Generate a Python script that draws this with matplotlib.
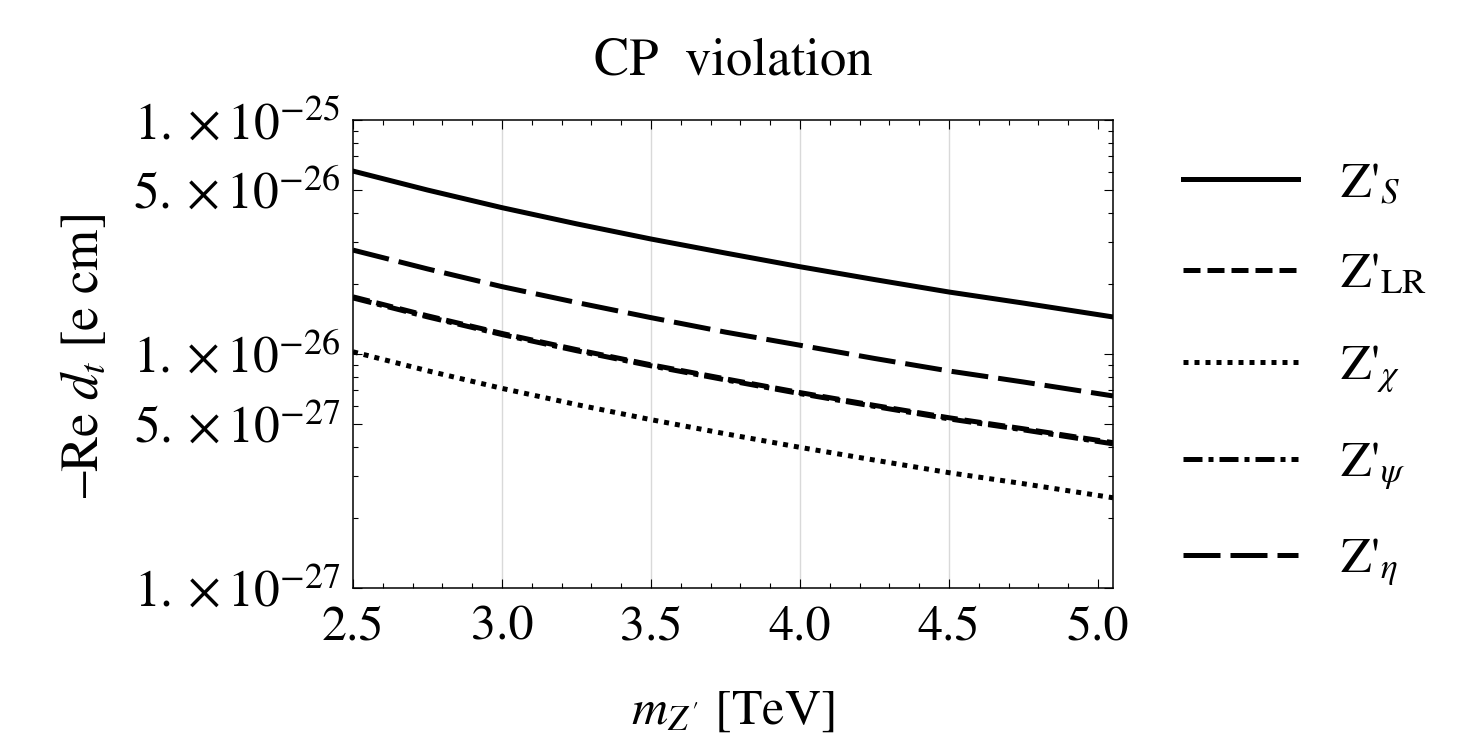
import matplotlib
matplotlib.use("Agg")
import matplotlib.pyplot as plt
from matplotlib.ticker import FixedLocator, NullFormatter

plt.rcParams['font.family'] = ['STIXGeneral', 'DejaVu Serif']
plt.rcParams['mathtext.fontset'] = 'stix'

# Z' mass [TeV]
m_zp = [2.5, 2.75, 3.0, 3.25, 3.5, 3.75, 4.0, 4.25, 4.5, 4.75, 5.05]

# -Re d_t in units of 1e-26 e cm
d_S = [6.05, 5.02, 4.22, 3.60, 3.10, 2.70, 2.36, 2.08, 1.84, 1.65, 1.44]
d_LR = [1.755, 1.456, 1.224, 1.044, 0.899, 0.783, 0.684, 0.603, 0.534, 0.479, 0.418]
d_chi = [1.022, 0.848, 0.713, 0.608, 0.524, 0.456, 0.399, 0.352, 0.311, 0.279, 0.243]
d_psi = [1.736, 1.441, 1.211, 1.033, 0.890, 0.775, 0.677, 0.597, 0.528, 0.474, 0.413]
d_eta = [2.78, 2.31, 1.94, 1.66, 1.43, 1.24, 1.09, 0.957, 0.846, 0.759, 0.662]

labels = [r"Z'$_{S}$", r"Z'$_{\mathrm{LR}}$", r"Z'$_{\chi}$", r"Z'$_{\psi}$", r"Z'$_{\eta}$"]

x_major = [2.5, 3.0, 3.5, 4.0, 4.5, 5.0]
x_grid = [3.0, 3.5, 4.0, 4.5]
y_major = [1e-27, 5e-27, 1e-26, 5e-26, 1e-25]
y_labels = [r"$1.\times10^{-27}$", r"$5.\times10^{-27}$", r"$1.\times10^{-26}$",
            r"$5.\times10^{-26}$", r"$1.\times10^{-25}$"]

fig = plt.figure(figsize=(14.69, 7.48), dpi=100)
ax = fig.add_axes([353/1469, 1-588/748, 760/1469, 468/748])

for xg in x_grid:
    ax.axvline(xg, color='#d9d9d9', lw=1.0, zorder=0)

lw = 3.6
series = [d_S, d_LR, d_chi, d_psi, d_eta]
dashes = [None, (3.4, 1.4), (1.0, 1.2), (3.8, 1.2, 1.0, 1.2), (7.4, 2.0)]
for vals, lab, ds in zip(series, labels, dashes):
    y = [v*1e-26 for v in vals]
    if ds is None:
        ax.plot(m_zp, y, color='black', lw=lw, label=lab)
    else:
        ax.plot(m_zp, y, color='black', lw=lw, label=lab, dashes=ds)

ax.set_yscale('log')
ax.set_xlim(2.5, 5.05)
ax.set_ylim(1e-27, 1e-25)

ax.xaxis.set_major_locator(FixedLocator(x_major))
ax.xaxis.set_minor_locator(FixedLocator([2.5 + 0.1*i for i in range(26)]))
ax.set_xticklabels(["2.5", "3.0", "3.5", "4.0", "4.5", "5.0"])

y_minor = [k*10.0**e for e in (-27, -26) for k in (2, 3, 4, 6, 7, 8, 9)]
ax.yaxis.set_major_locator(FixedLocator(y_major))
ax.yaxis.set_minor_locator(FixedLocator(y_minor))
ax.yaxis.set_minor_formatter(NullFormatter())
ax.set_yticklabels(y_labels)

ax.tick_params(which='both', direction='in', top=True, right=True, width=0.8)
ax.tick_params(which='major', length=6.5)
ax.tick_params(which='minor', length=3.6)
ax.tick_params(axis='x', labelsize=36, pad=12)
ax.tick_params(axis='y', labelsize=37, pad=9)
for sp in ax.spines.values():
    sp.set_linewidth(1.1)

fig.text(733/1469, 1-62/748, "CP  violation", fontsize=38, ha='center', va='center')
fig.text(733/1469, 1-712/748, r"$m_{Z\,'}$ [TeV]", fontsize=36, ha='center', va='center')
fig.text(85/1469, 1-356/748, r"–Re $d_t$ [e cm]", fontsize=38, rotation=90,
         ha='center', va='center')

fig.legend(loc='center left', bbox_to_anchor=(1138/1469, 1-375/748), frameon=False,
           fontsize=36, handlelength=2.3, handletextpad=0.85, labelspacing=0.9)

plt.savefig('out.png', dpi=100)
